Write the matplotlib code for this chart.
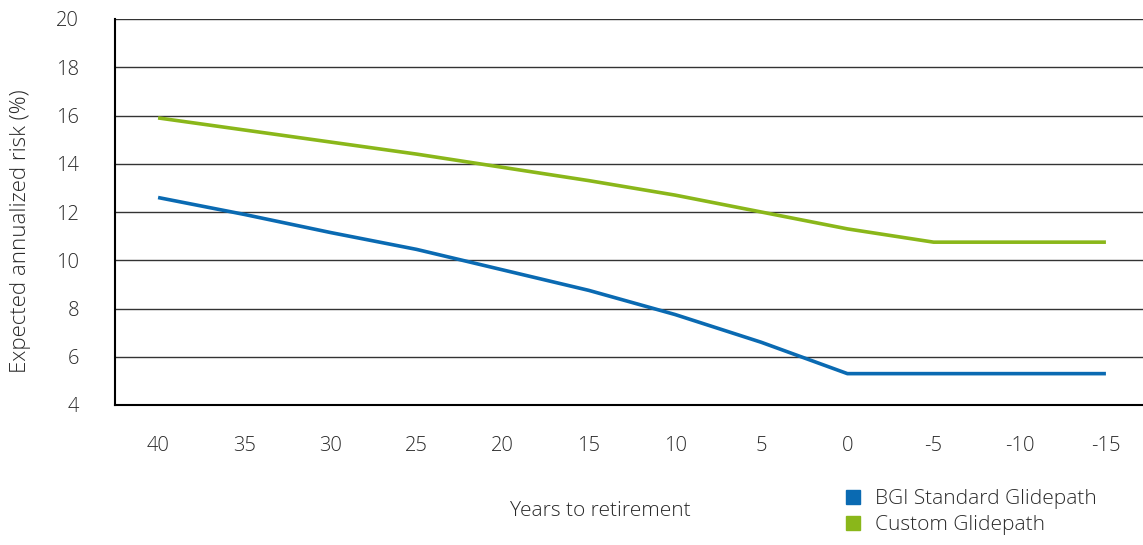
import numpy as np
import matplotlib.pyplot as plt
from matplotlib.lines import Line2D

plt.rcParams['font.family'] = ['Open Sans', 'DejaVu Sans']
plt.rcParams['font.weight'] = 'light'

# Data
years = ['40', '35', '30', '25', '20', '15', '10', '5', '0', '-5', '-10', '-15']
bgi_standard = [12.6, 11.9, 11.15, 10.45, 9.6, 8.75, 7.75, 6.6, 5.3, 5.3, 5.3, 5.3]
custom = [15.9, 15.4, 14.9, 14.4, 13.85, 13.3, 12.7, 12.0, 11.3, 10.75, 10.75, 10.75]

blue = '#0a6ab2'
green = '#8ab71a'
txt = '#2a2a2a'

fig = plt.figure(figsize=(11.43, 5.45), dpi=100)
ax = fig.add_axes([115 / 1143, 1 - 405 / 545, 1034 / 1143, 386 / 545])

x = np.arange(len(years))
ax.plot(x, bgi_standard, color=blue, linewidth=2.6, solid_capstyle='butt')
ax.plot(x, custom, color=green, linewidth=2.6, solid_capstyle='butt')

ax.set_xlim(-0.5, len(years) - 0.5)
ax.set_ylim(4, 20)
ax.set_yticks(np.arange(4, 21, 2))
ax.set_xticks(x)
ax.set_xticklabels(years)
ax.tick_params(axis='both', length=0, labelsize=14.5, colors=txt)
ax.tick_params(axis='x', pad=22)
ax.tick_params(axis='y', pad=26)

for v in range(6, 21, 2):
    ax.axhline(v, color='#333333', linewidth=1, zorder=0)

for s in ['top', 'right']:
    ax.spines[s].set_visible(False)
ax.spines['left'].set_linewidth(1.5)
ax.spines['bottom'].set_linewidth(1.5)

fig.text(600 / 1143, 1 - 511 / 545, 'Years to retirement', ha='center', va='center',
         fontsize=15, color=txt)
fig.text(21 / 1143, 1 - 231 / 545, 'Expected annualized risk (%)', ha='center', va='center',
         rotation=90, fontsize=16, color=txt)

handles = [Line2D([], [], marker='s', linestyle='', color=blue, markersize=10),
           Line2D([], [], marker='s', linestyle='', color=green, markersize=10)]
fig.legend(handles, ['BGI Standard Glidepath', 'Custom Glidepath'],
           loc='upper left', bbox_to_anchor=(843 / 1143, 1 - 489 / 545),
           frameon=False, fontsize=15, labelcolor=txt, handletextpad=0.55,
           labelspacing=0.3, handlelength=1.0, borderaxespad=0, borderpad=0)

fig.savefig('out.png', dpi=100)
